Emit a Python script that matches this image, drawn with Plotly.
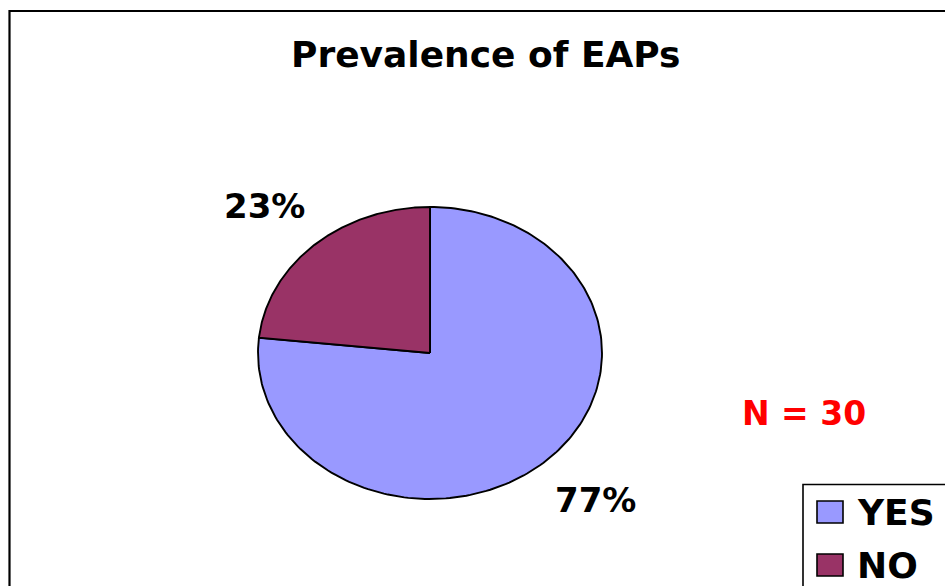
import numpy as np
import plotly.graph_objects as go

# Survey responses
categories = ["YES", "NO"]
counts = [23, 7]
colors = ["#9999FF", "#993366"]
title_text = "Prevalence of EAPs"

W, H = 945, 586
FONT = "DejaVu Sans"


def px(x):
    return x / W


def py(y):
    return 1 - y / H


total = sum(counts)
fractions = [c / total for c in counts]

fig = go.Figure()

# Wedges: start at 12 o'clock and run clockwise, drawn on an x/y grid whose
# aspect stretches the unit circle into an ellipse.
start = 90.0
mids = []
for name, frac, col in zip(categories, fractions, colors):
    end = start - 360.0 * frac
    theta = np.radians(np.linspace(start, end, 200))
    xs = np.concatenate([[0.0], np.cos(theta), [0.0]])
    ys = np.concatenate([[0.0], np.sin(theta), [0.0]])
    fig.add_trace(go.Scatter(
        x=xs, y=ys, mode="lines", fill="toself", fillcolor=col,
        line=dict(color="black", width=1.9), name=name,
        hoverinfo="name", showlegend=False,
    ))
    mids.append(np.radians((start + end) / 2))
    start = end

# Percent labels placed outward along each wedge's mid-angle
for frac, m in zip(fractions, mids):
    fig.add_annotation(
        x=np.cos(m) * 1.44, y=np.sin(m) * 1.355, xref="x", yref="y",
        xanchor="center", yanchor="middle",
        text=f"<b>{round(frac * 100)}%</b>", showarrow=False,
        font=dict(family=FONT, size=34, color="black"),
    )

# Title and sample-size note
fig.add_annotation(
    x=px(486), y=py(55), xref="paper", yref="paper",
    xanchor="center", yanchor="middle",
    text=f"<b>{title_text}</b>", showarrow=False,
    font=dict(family=FONT, size=36, color="black"),
)
fig.add_annotation(
    x=px(804), y=py(413), xref="paper", yref="paper",
    xanchor="center", yanchor="middle",
    text=f"<b>N = {total}</b>", showarrow=False,
    font=dict(family=FONT, size=33, color="#FF0000"),
)

shapes = [
    # chart frame
    dict(type="rect", xref="paper", yref="paper",
         x0=px(9.5), x1=px(W + 20), y0=py(H + 20), y1=py(11),
         line=dict(color="black", width=2.2), fillcolor="rgba(0,0,0,0)"),
    # legend box
    dict(type="rect", xref="paper", yref="paper",
         x0=px(803), x1=px(W + 20), y0=py(H + 20), y1=py(484.5),
         line=dict(color="black", width=1.6), fillcolor="white"),
]

legend_rows = [512, 565]
for name, col, yc in zip(categories, colors, legend_rows):
    shapes.append(dict(
        type="rect", xref="paper", yref="paper",
        x0=px(817), x1=px(843), y0=py(yc + 11), y1=py(yc - 11),
        line=dict(color="black", width=1.6), fillcolor=col,
    ))
    fig.add_annotation(
        x=px(855), y=py(yc), xref="paper", yref="paper",
        xanchor="left", yanchor="middle",
        text=f"<b>{name}</b>", showarrow=False,
        font=dict(family=FONT, size=36, color="black"),
    )

# Axes span 1.5x the pie radius so the outside labels stay in range;
# the pie itself (radius 1) sits centred at (430, 353) px.
cx, cy, rx, ry = 430, 353, 172, 146
k = 1.5
fig.update_layout(
    width=W, height=H,
    margin=dict(l=0, r=0, t=0, b=0),
    paper_bgcolor="white", plot_bgcolor="white",
    shapes=shapes,
    xaxis=dict(domain=[px(cx - k * rx), px(cx + k * rx)], range=[-k, k],
               visible=False, fixedrange=True),
    yaxis=dict(domain=[py(cy + k * ry), py(cy - k * ry)], range=[-k, k],
               visible=False, fixedrange=True),
    showlegend=False,
)

fig.write_html("out.html")
